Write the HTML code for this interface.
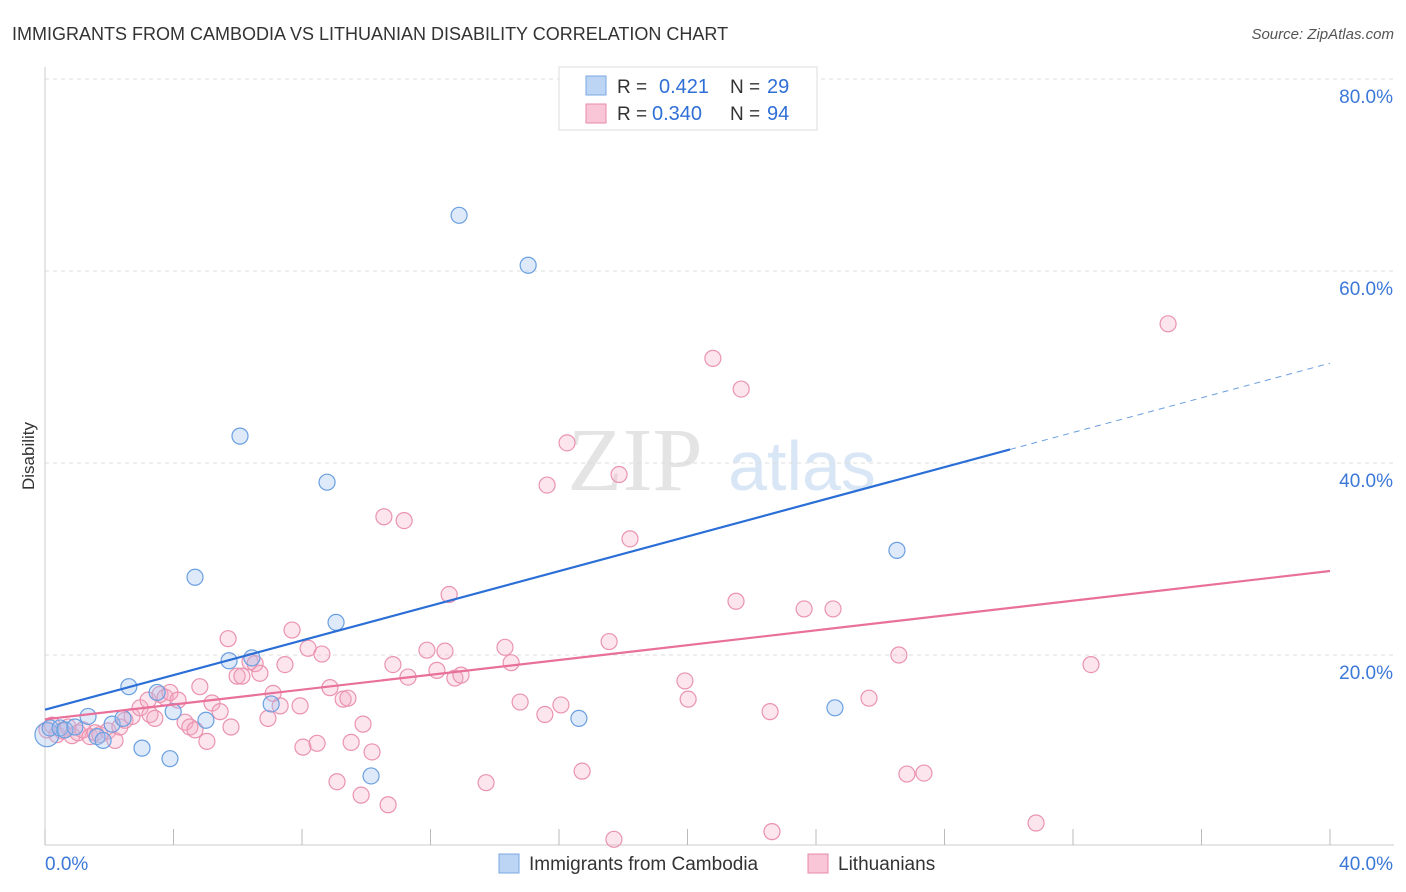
<!DOCTYPE html>
<html><head><meta charset="utf-8"><style>
body{margin:0;background:#fff;font-family:"Liberation Sans",sans-serif;}
svg{display:block}
</style></head><body>
<svg id="chart" width="1406" height="892">
<text x="12" y="40" font-size="18" fill="#333">IMMIGRANTS FROM CAMBODIA VS LITHUANIAN DISABILITY CORRELATION CHART</text>
<text x="1394" y="39" font-size="15" fill="#555" font-style="italic" text-anchor="end">Source: ZipAtlas.com</text>
<text x="34" y="456" font-size="17" fill="#333" text-anchor="middle" transform="rotate(-90 34 456)">Disability</text>
<g><text x="635" y="490" font-size="90" fill="#e4e4e4" font-family="Liberation Serif,serif" text-anchor="middle">ZIP</text><text x="802" y="490" font-size="70" fill="#d8e6f6" text-anchor="middle">atlas</text></g>
<g id="grid"></g><g id="axes"></g><g id="marks"></g>
<g>
<rect x="559" y="67" width="258" height="63" fill="#fff" stroke="#ddd"/>
<rect x="586" y="76" width="20" height="19" fill="#bcd5f5" stroke="#7aa8e0"/>
<text x="617" y="93" font-size="19" fill="#333">R =</text>
<text x="659" y="93" font-size="20" fill="#2f6fd6">0.421</text>
<text x="730" y="93" font-size="19" fill="#333">N =</text>
<text x="767" y="93" font-size="20" fill="#2f6fd6">29</text>
<rect x="586" y="104" width="20" height="19" fill="#f8c6d6" stroke="#e88aa8"/>
<text x="617" y="120" font-size="19" fill="#333">R =</text>
<text x="652" y="120" font-size="20" fill="#2f6fd6">0.340</text>
<text x="730" y="120" font-size="19" fill="#333">N =</text>
<text x="767" y="120" font-size="20" fill="#2f6fd6">94</text>
</g>
<g>
<rect x="499" y="854" width="20" height="19" fill="#bcd5f5" stroke="#7aa8e0"/>
<text x="529" y="870" font-size="19" fill="#333">Immigrants from Cambodia</text>
<rect x="808" y="854" width="20" height="19" fill="#f8c6d6" stroke="#e88aa8"/>
<text x="838" y="870" font-size="19" fill="#333">Lithuanians</text>
</g>
</svg>
<script>
const blueX=[0.06,0.16,0.47,0.62,0.93,1.34,1.62,1.81,2.09,2.43,2.61,3.02,3.49,3.89,3.99,4.67,5.01,5.73,6.07,6.44,7.04,8.78,9.06,10.15,12.89,15.04,16.62,24.59,26.52];
const blueY=[11.7,12.4,12.4,12.2,12.5,13.6,11.5,11.1,12.8,13.4,16.7,10.3,16.1,9.2,14.1,28.1,13.2,19.4,42.8,19.7,14.9,38.0,23.4,7.4,65.8,60.6,13.4,14.5,30.9];
const pinkX=[0.06,0.22,0.37,0.53,0.72,0.84,1.03,1.18,1.40,1.56,1.71,1.96,2.18,2.33,2.49,2.71,2.96,3.21,3.27,3.42,3.58,3.74,3.89,4.14,4.36,4.51,4.67,4.82,5.04,5.20,5.45,5.70,5.79,5.98,6.13,6.38,6.54,6.69,6.94,7.10,7.32,7.47,7.69,7.94,8.03,8.19,8.47,8.62,8.87,9.09,9.28,9.43,9.53,9.84,9.90,10.18,10.55,10.68,10.83,11.18,11.30,11.89,12.20,12.45,12.58,12.76,12.95,13.73,14.32,14.51,14.79,15.56,15.63,16.06,16.25,16.72,17.56,17.71,17.87,18.21,19.92,20.02,20.79,21.51,21.67,22.57,22.63,23.63,24.53,25.65,26.58,26.83,27.36,30.85,32.56,34.96];
const pinkY=[12.2,12.7,11.7,12.1,12.5,11.6,11.9,12.2,11.5,11.9,11.7,12.1,11.1,12.5,13.2,13.6,14.5,15.3,13.8,13.4,15.9,15.6,16.1,15.3,13.0,12.5,12.2,16.7,11.0,15.0,14.1,21.7,12.5,17.8,17.8,19.3,19.1,18.1,13.4,16.0,14.7,19.0,22.6,14.7,10.4,20.7,10.8,20.1,16.6,6.8,15.4,15.5,10.9,5.4,12.8,9.9,34.4,4.4,19.0,34.0,17.7,20.5,18.4,20.4,26.3,17.6,17.9,6.7,20.8,19.2,15.1,13.8,37.7,14.8,42.1,7.9,21.4,0.8,38.8,32.1,17.3,15.4,50.9,25.6,47.7,14.1,1.6,24.8,24.8,15.5,20.0,7.6,7.7,2.5,19.0,54.5];
const blueTrend=[14.3,50.4]; const blueSolidEnd=30.04;
const pinkTrend=[13.3,28.75];
const yTicks=[20,40,60,80];
const yTickLabels=["20.0%","40.0%","60.0%","80.0%"];
const xTicks=[0,4,8,12,16,20,24,28,32,36,40];
const NS="http://www.w3.org/2000/svg";
const X=v=>45+v*32.125, Y=v=>847-v*9.6;
function mk(tag,attrs,parent){const e=document.createElementNS(NS,tag);for(const k in attrs)e.setAttribute(k,attrs[k]);document.getElementById(parent).appendChild(e);return e;}
yTicks.forEach((t,i)=>{
 const g=mk('line',{x1:45,x2:1394,y1:Y(t),y2:Y(t),stroke:'#ddd','stroke-dasharray':'4,4'},'grid');
 
 
 const l=mk('text',{x:1393,y:Y(t)+24,'font-size':19,fill:'#3b78d8','text-anchor':'end'},'axes');
 l.textContent=yTickLabels[i];
 
 
});
const topGrid=mk('line',{x1:45,x2:1394,y1:79,y2:79,stroke:'#ddd','stroke-dasharray':'4,4'},'grid');


const ya=mk('line',{x1:45,x2:45,y1:67,y2:845,stroke:'#ccc'},'axes');


const xa=mk('line',{x1:45,x2:1394,y1:845,y2:845,stroke:'#ccc'},'axes');


xTicks.forEach(t=>{const k=mk('line',{x1:X(t),x2:X(t),y1:829,y2:845,stroke:'#bbb'},'axes');
 
 });
const xl0=mk('text',{x:45,y:870,'font-size':19,fill:'#3b78d8'},'axes');xl0.textContent='0.0%';


const xl1=mk('text',{x:1393,y:870,'font-size':19,fill:'#3b78d8','text-anchor':'end'},'axes');xl1.textContent='40.0%';


pinkX.forEach((v,i)=>{const c=mk('circle',{cx:X(v),cy:Y(pinkY[i]),r:8,fill:'rgba(245,170,195,0.3)',stroke:'#ea93b0','stroke-width':1.2},'marks');
 
 });
blueX.forEach((v,i)=>{const c=mk('circle',{cx:X(v),cy:Y(blueY[i]),r:i==0?12:8,fill:'rgba(160,196,240,0.35)',stroke:'#6a9fe0','stroke-width':1.2},'marks');
 
 });
const bv=x=>blueTrend[0]+(blueTrend[1]-blueTrend[0])*x/40;
const b1=mk('line',{x1:X(0),y1:Y(blueTrend[0]),x2:X(blueSolidEnd),y2:Y(bv(blueSolidEnd)),stroke:'#2b6fd6','stroke-width':2.2},'marks');


const b2=mk('line',{x1:X(blueSolidEnd),y1:Y(bv(blueSolidEnd)),x2:X(40),y2:Y(blueTrend[1]),stroke:'#6a9fe0','stroke-width':1,'stroke-dasharray':'6,5'},'marks');


const p1=mk('line',{x1:X(0),y1:Y(pinkTrend[0]),x2:X(40),y2:Y(pinkTrend[1]),stroke:'#e8709a','stroke-width':2.2},'marks');


</script>
</body></html>
